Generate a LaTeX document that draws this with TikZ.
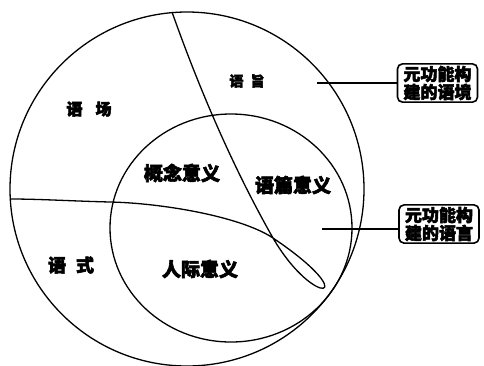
\documentclass[tikz,border=0pt]{standalone}
\usepackage{fontspec}
\newfontfamily\cjk[BoldFeatures={FakeBold=3}]{Noto Sans CJK SC}
\begin{document}
\begin{tikzpicture}[x=1pt,y=-1pt,
  curve/.style={line width=1.3pt},
  lbl/.style={font=\cjk\bfseries\fontsize{19}{19}\selectfont, inner sep=0pt},
  boxlbl/.style={draw, line width=1.6pt, rounded corners=5pt, align=center,
    font=\cjk\bfseries\fontsize{17}{18}\selectfont, inner xsep=6pt, inner ysep=2pt}]
\useasboundingbox (0,0) rectangle (484,365);
\fill[white] (0,0) rectangle (484,365);
% outer circle (context) and inner ellipse (language)
\draw[curve] (187,189) circle [radius=177pt];
\draw[curve] (231,228) ellipse [x radius=121pt, y radius=114pt];
% looped dividing curve
\coordinate (ctop) at (172,12);
\coordinate (cx) at (273,238);
\coordinate (cleft) at (10,199);
\draw[curve] (ctop) .. controls (205,105) and (240,180) .. (cx)
  .. controls (315,310) and (365,300) .. (cx)
  .. controls (240,216) and (160,203) .. (110,202)
  .. controls (70,201) and (40,199) .. (cleft);
% region labels
\node[lbl, font=\cjk\bfseries\fontsize{16}{16}\selectfont] (yc) at (89,109) {语\hspace{13pt}场};
\node[lbl, font=\cjk\bfseries\fontsize{14}{14}\selectfont] (yz) at (247,81) {语\hspace{7pt}旨};
\node[lbl, font=\cjk\bfseries\fontsize{18}{18}\selectfont] (ys) at (71,265) {语\hspace{10pt}式};
\node[lbl] (gn) at (182,173) {概念意义};
\node[lbl] (yp) at (293,185) {语篇意义};
\node[lbl] (rj) at (200,269) {人际意义};
% boxes
\node[boxlbl] (b1) at (437.5,83) {元功能构\\建的语境};
\node[boxlbl] (b2) at (439,224) {元功能构\\建的语言};
\coordinate (p1) at (317,83);
\coordinate (p2) at (322,229);
\draw[curve] (p1) -- (b1.west |- p1);
\draw[curve] (p2) -- (b2.west |- p2);
\end{tikzpicture}
\end{document}
